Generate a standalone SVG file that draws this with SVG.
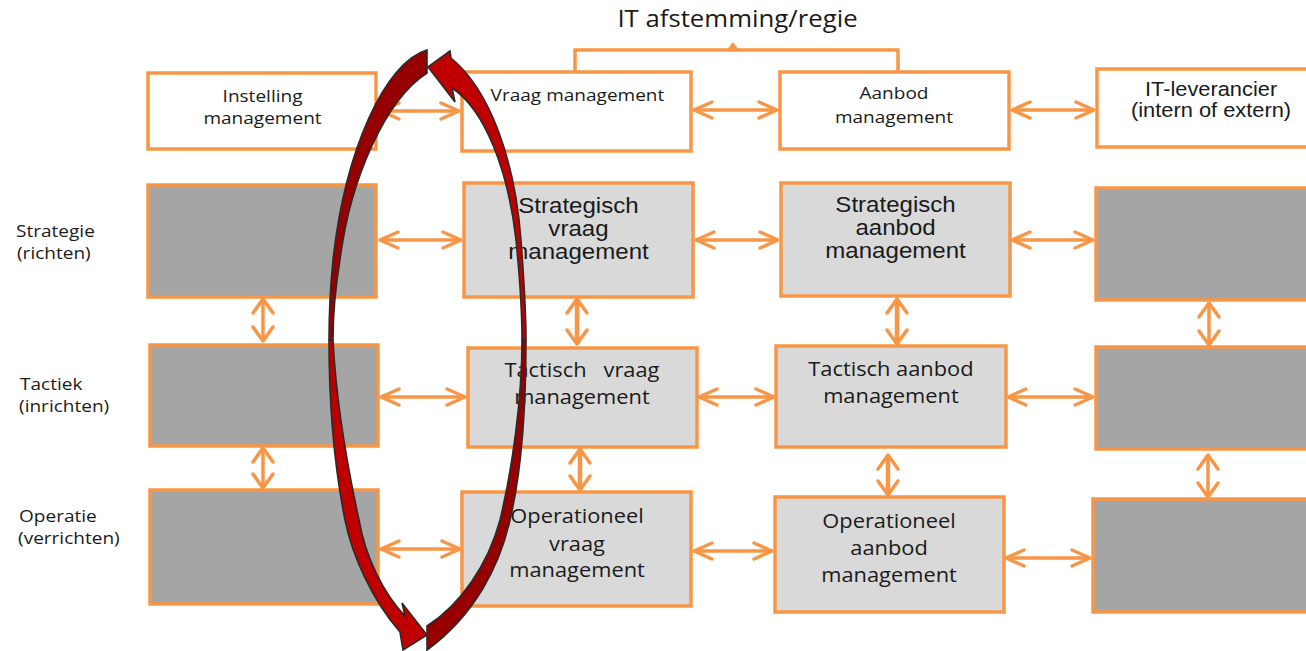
<svg xmlns="http://www.w3.org/2000/svg" width="1306" height="651" viewBox="0 0 1306 651">
<defs>
<style>
.box{stroke:#f79646;stroke-width:3.5}
.w{fill:#ffffff}
.g{fill:#a5a5a5}
.l{fill:#d9d9d9}
.os{font-family:"Open Sans","Liberation Sans",sans-serif;fill:#1a1a1a;text-anchor:middle}
.ar{font-family:"Liberation Sans",Arial,sans-serif;fill:#1a1a1a;text-anchor:middle}
.lab{font-family:"Open Sans","Liberation Sans",sans-serif;fill:#1a1a1a;font-size:17px}
.conn line{stroke:#f79646;stroke-width:3.5;fill:none}
.h{marker-start:url(#ah);marker-end:url(#ah)}
.v{marker-start:url(#av);marker-end:url(#av)}
.red{stroke:#2b2b2b;stroke-width:1.6;stroke-linejoin:miter}
</style>
<marker id="ah" markerUnits="userSpaceOnUse" orient="auto-start-reverse" refX="0" refY="0" markerWidth="30" markerHeight="30" overflow="visible">
<path d="M-18,-8 L0,0 L-18,8" fill="none" stroke="#f79646" stroke-width="3.5" stroke-linecap="round" stroke-linejoin="round"/>
</marker>
<marker id="av" markerUnits="userSpaceOnUse" orient="auto-start-reverse" refX="0" refY="0" markerWidth="30" markerHeight="30" overflow="visible">
<path d="M-14,-10 L0,0 L-14,10" fill="none" stroke="#f79646" stroke-width="3.5" stroke-linecap="round" stroke-linejoin="round"/>
</marker>
</defs>
<rect width="1306" height="651" fill="#ffffff"/>

<g id="title">
<text class="os" font-size="23" x="658.5" y="27" transform="scale(1.12 1)">IT afstemming/regie</text>
<path d="M575,72 V50 H898 V72" fill="none" stroke="#f79646" stroke-width="3.5"/>
<path d="M727,50 L733,42 L739,50 Z" fill="#f79646"/>
</g>

<g id="labels">
<text class="lab" transform="scale(1.12 1)"><tspan x="14.3" y="237">Strategie</tspan><tspan x="15.2" y="259">(richten)</tspan></text>
<text class="lab" transform="scale(1.12 1)"><tspan x="17.9" y="390">Tactiek</tspan><tspan x="17" y="412">(inrichten)</tspan></text>
<text class="lab" transform="scale(1.12 1)"><tspan x="17" y="522">Operatie</tspan><tspan x="16.1" y="544">(verrichten)</tspan></text>
</g>

<g id="instelling">
<rect class="box w" x="148" y="73" width="228" height="76"/>
<text class="os" font-size="17" transform="scale(1.12 1)"><tspan x="234.4" y="102">Instelling</tspan><tspan x="234.4" y="124">management</tspan></text>
</g>
<g id="vraag">
<rect class="box w" x="462" y="72" width="229" height="79"/>
<text class="os" font-size="17" x="515.6" y="101" transform="scale(1.12 1)">Vraag management</text>
</g>
<g id="aanbod">
<rect class="box w" x="780" y="72" width="229" height="77"/>
<text class="os" font-size="17" transform="scale(1.12 1)"><tspan x="798.2" y="99">Aanbod</tspan><tspan x="798.2" y="123">management</tspan></text>
</g>
<g id="itleverancier">
<rect class="box w" x="1097" y="69" width="215" height="78"/>
<text class="ar" font-size="19.5" transform="scale(1.12 1)"><tspan x="1081.3" y="96">IT-leverancier</tspan><tspan x="1081.3" y="117">(intern of extern)</tspan></text>
</g>

<g id="inst-strategie"><rect class="box g" x="148" y="185" width="228" height="112"/></g>
<g id="strategisch-vraag">
<rect class="box l" x="464" y="183" width="229" height="114"/>
<text class="ar" font-size="21.5" transform="scale(1.12 1)"><tspan x="516.5" y="213">Strategisch</tspan><tspan x="516.5" y="236">vraag</tspan><tspan x="516.5" y="259">management</tspan></text>
</g>
<g id="strategisch-aanbod">
<rect class="box l" x="781" y="183" width="229" height="113"/>
<text class="ar" font-size="21.5" transform="scale(1.12 1)"><tspan x="799.6" y="212">Strategisch</tspan><tspan x="799.6" y="235">aanbod</tspan><tspan x="799.6" y="258">management</tspan></text>
</g>
<g id="lev-strategie"><rect class="box g" x="1096" y="188" width="215" height="112"/></g>

<g id="inst-tactiek"><rect class="box g" x="150" y="345" width="228" height="101"/></g>
<g id="tactisch-vraag">
<rect class="box l" x="468" y="348" width="229" height="99"/>
<text class="os" font-size="19.5" transform="scale(1.12 1)" style="white-space:pre"><tspan x="519.6" y="377">Tactisch   vraag</tspan><tspan x="519.6" y="404">management</tspan></text>
</g>
<g id="tactisch-aanbod">
<rect class="box l" x="776" y="346" width="230" height="101"/>
<text class="os" font-size="19.5" transform="scale(1.12 1)"><tspan x="795.5" y="376">Tactisch aanbod</tspan><tspan x="795.5" y="403">management</tspan></text>
</g>
<g id="lev-tactiek"><rect class="box g" x="1096" y="347" width="215" height="102"/></g>

<g id="inst-operatie"><rect class="box g" x="150" y="490" width="228" height="114"/></g>
<g id="operationeel-vraag">
<rect class="box l" x="462" y="492" width="229" height="114"/>
<text class="os" font-size="19.5" transform="scale(1.12 1)"><tspan x="515.2" y="523">Operationeel</tspan><tspan x="515.2" y="551">vraag</tspan><tspan x="515.2" y="577">management</tspan></text>
</g>
<g id="operationeel-aanbod">
<rect class="box l" x="775" y="497" width="229" height="115"/>
<text class="os" font-size="19.5" transform="scale(1.12 1)"><tspan x="793.8" y="528">Operationeel</tspan><tspan x="793.8" y="555">aanbod</tspan><tspan x="793.8" y="582">management</tspan></text>
</g>
<g id="lev-operatie"><rect class="box g" x="1093" y="499" width="218" height="113"/></g>

<g id="connectors" class="conn">
<line class="h" x1="381" y1="111" x2="459" y2="111"/>
<line class="h" x1="694" y1="110" x2="777" y2="110"/>
<line class="h" x1="1012" y1="110" x2="1094" y2="110"/>
<line class="h" x1="380" y1="240" x2="461" y2="240"/>
<line class="h" x1="696" y1="240" x2="778" y2="240"/>
<line class="h" x1="1012" y1="240" x2="1093" y2="240"/>
<line class="h" x1="381" y1="397" x2="465" y2="397"/>
<line class="h" x1="699" y1="397" x2="774" y2="397"/>
<line class="h" x1="1008" y1="397" x2="1093" y2="397"/>
<line class="h" x1="381" y1="549" x2="460" y2="549"/>
<line class="h" x1="694" y1="551" x2="772" y2="551"/>
<line class="h" x1="1006" y1="558" x2="1090" y2="558"/>
<line class="v" x1="263" y1="299" x2="263" y2="341"/>
<line class="v" x1="263" y1="448" x2="263" y2="488"/>
<line class="v" x1="577" y1="299" x2="577" y2="344" style="stroke-width:4.5"/>
<line class="v" x1="580" y1="449" x2="580" y2="490" style="stroke-width:4.5"/>
<line class="v" x1="897" y1="299" x2="897" y2="344" style="stroke-width:4.5"/>
<line class="v" x1="888" y1="455" x2="888" y2="495" style="stroke-width:4.5"/>
<line class="v" x1="1209" y1="303" x2="1209" y2="345"/>
<line class="v" x1="1208" y1="455" x2="1208" y2="497"/>
</g>

<g id="cycle-arrows">
<path class="red" fill="#960000" d="M427,50 C385,62 345,150 333,260 C330,290 329,315 329,340 L333,340 C333,320 335,290 340,260 C350,180 385,100 427,73 Z"/>
<path class="red" fill="#960000" d="M526,340 C526,400 522,470 510,520 C500,565 475,615 427,650 L427,626 C460,605 488,565 500,520 C512,470 522,400 522,340 Z"/>
<path class="red" fill="#c00000" d="M329,340 C329,400 333,460 345,520 C352,555 372,600 400,632 L403,650 L427,635 L402,603 L405,616 C385,595 366,560 359,520 C346,460 336,400 333,340 Z"/>
<path class="red" fill="#c00000" d="M428,67 L450,51 L451,58 C490,90 515,160 521,240 C524,280 526,310 526,340 L522,340 C522,310 520,280 516,240 C508,170 485,110 452,88 L455,102 Z"/>
</g>
</svg>
